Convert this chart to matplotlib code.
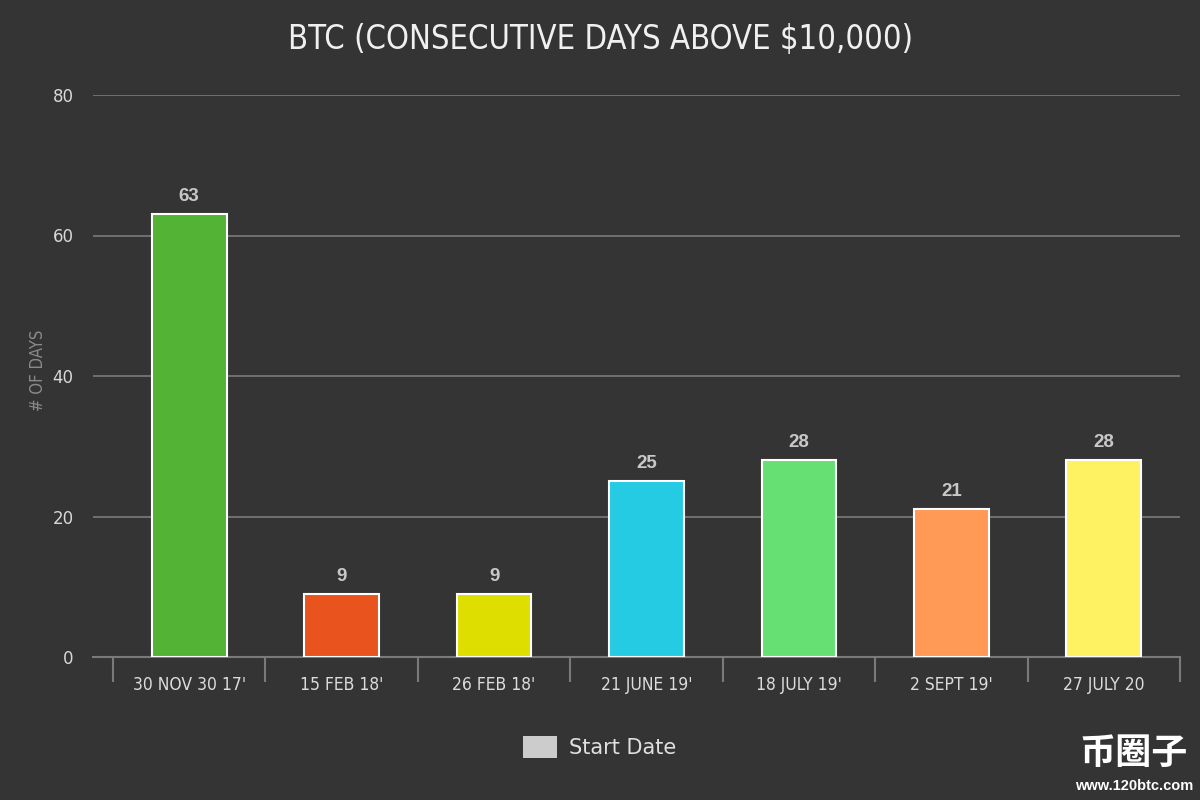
import matplotlib.pyplot as plt
from matplotlib.patches import Patch

# chart data
dates = ["30 NOV 30 17'", "15 FEB 18'", "26 FEB 18'", "21 JUNE 19'",
         "18 JULY 19'", "2 SEPT 19'", "27 JULY 20"]
days = [63, 9, 9, 25, 28, 21, 28]
colors = ["#52b335", "#e9541e", "#dede00", "#25cbe3",
          "#66e072", "#ff9955", "#fff262"]

bg = "#343434"
font = "DejaVu Sans"

fig = plt.figure(figsize=(12, 8), dpi=100, facecolor=bg)
ax = fig.add_axes([93 / 1200, 1 - 657 / 800, (1180 - 93) / 1200, (657 - 95) / 800])
ax.set_facecolor(bg)

x = list(range(len(dates)))
bars = ax.bar(x, days, width=0.49, color=colors, edgecolor="white", linewidth=1.5, zorder=3)

for b, v in zip(bars, days):
    ax.text(b.get_x() + b.get_width() / 2, v + 1.3, str(v), ha="center", va="bottom",
            color="#c8c8c8", fontsize=13.5, fontweight="bold", family="Liberation Sans")

# left pad so gridlines start before the first category band
pad = 20 / 152.5
ax.set_xlim(-0.5 - pad, len(dates) - 0.5)
ax.set_ylim(0, 80)
ax.set_yticks([0, 20, 40, 60, 80])
ax.yaxis.grid(True, color="#7a7a7a", linewidth=1.2, zorder=0)
ax.tick_params(axis="y", length=0, pad=14, labelsize=12, labelcolor="#d8d8d8")
for t in ax.get_yticklabels():
    t.set_family(font)

ax.set_xticks(x)
ax.set_xticklabels(dates, fontsize=12.5, color="#dcdcdc", family=font, fontstretch="condensed")
ax.tick_params(axis="x", length=0, pad=14)
ax.set_xticks([i - 0.5 for i in range(len(dates) + 1)], minor=True)
ax.tick_params(axis="x", which="minor", length=18, width=1.5, color="#7a7a7a")

for s in ["top", "right", "left"]:
    ax.spines[s].set_visible(False)
ax.spines["bottom"].set_color("#7a7a7a")
ax.spines["bottom"].set_linewidth(1.5)

ax.set_ylabel("# OF DAYS", color="#8a8a8a", fontsize=12, family=font,
              fontstretch="condensed")
ax.yaxis.set_label_coords(-46 / 1087, 0.51)

fig.text(0.5, 0.95, "BTC (CONSECUTIVE DAYS ABOVE $10,000)", ha="center", va="center",
         color="#f0f0f0", fontsize=23.5, family=font, fontstretch="condensed")

leg = fig.legend(handles=[Patch(facecolor="#cccccc", edgecolor="none")], labels=["Start Date"],
                 loc="center", bbox_to_anchor=(0.5, 1 - 747 / 800), frameon=False,
                 fontsize=15, handlelength=1.6, handleheight=1.2, handletextpad=0.6)
for t in leg.get_texts():
    t.set_color("#e0e0e0")
    t.set_family(font)

fig.text(0.945, 0.058, "币圈子", ha="center", va="center", color="white", fontsize=26,
         fontweight="bold", family=["Noto Sans CJK SC", "DejaVu Sans"])
fig.text(0.945, 0.018, "www.120btc.com", ha="center", va="center", color="white",
         fontsize=10.5, fontweight="bold", family="Liberation Sans")

fig.savefig("out.png", dpi=100, facecolor=bg)
